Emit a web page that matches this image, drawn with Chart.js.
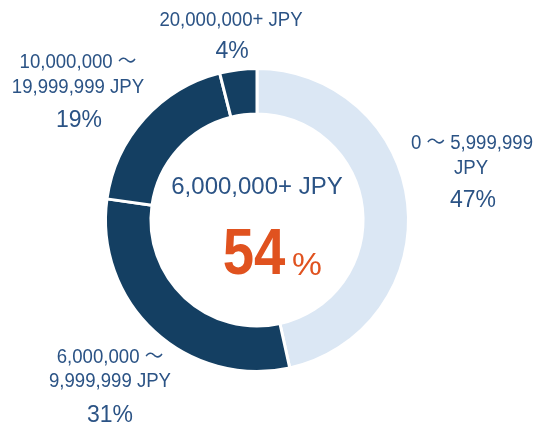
<!DOCTYPE html>
<html>
<head>
<meta charset="utf-8">
<script src="https://cdn.jsdelivr.net/npm/chart.js@4.4.0/dist/chart.umd.min.js"></script>
<style>
  html, body { margin: 0; padding: 0; background: #fff; }
  #wrap { width: 537px; height: 430px; }
</style>
</head>
<body>
<div id="wrap"><canvas id="chart" width="537" height="430"></canvas></div>
<script>
// data
const categories = ["0 ～ 5,999,999 JPY", "6,000,000 ～ 9,999,999 JPY", "10,000,000 ～ 19,999,999 JPY", "20,000,000+ JPY"];
const values = [47, 31, 19, 4];
const colors = ["#dbe7f4", "#143f62", "#143f62", "#143f62"];
const centerLabel = "6,000,000+ JPY";
const centerValue = "54";

const textColor = "#2b5385";
const fontFamily = "'Liberation Sans', 'Noto Sans CJK JP', Arial, sans-serif";

// label lines drawn outside the ring (x, y are text centres)
const outsideLabels = [
    { lines: [["0 ～ 5,999,999", 472, 143], ["JPY", 471, 168]], pct: [values[0] + "%", 473, 201] },
    { lines: [["6,000,000 ～", 110, 357], ["9,999,999 JPY", 110, 381]], pct: [values[1] + "%", 110, 416] },
    { lines: [["10,000,000 ～", 78, 62], ["19,999,999 JPY", 78, 87]], pct: [values[2] + "%", 79, 121] },
    { lines: [["20,000,000+ JPY", 231, 20]], pct: [values[3] + "%", 232, 52] }
];

function drawText(ctx, txt, x, y, font, color, sx) {
    ctx.save();
    ctx.font = font;
    ctx.fillStyle = color;
    ctx.textAlign = "center";
    ctx.textBaseline = "middle";
    ctx.translate(x, y);
    ctx.scale(sx, 1);
    ctx.fillText(txt, 0, 0);
    ctx.restore();
}

const labelPlugin = {
    id: "labelPlugin",
    afterDraw(chart) {
        const ctx = chart.ctx;
        outsideLabels.forEach(function (l) {
            l.lines.forEach(function (ln) {
                drawText(ctx, ln[0], ln[1], ln[2], "20px " + fontFamily, textColor, 0.93);
            });
            drawText(ctx, l.pct[0], l.pct[1], l.pct[2], "23px " + fontFamily, textColor, 1.0);
        });

        const arc = chart.getDatasetMeta(0).data[0];
        const cx = arc.x, cy = arc.y;
        drawText(ctx, centerLabel, cx, cy - 33, "24px " + fontFamily, textColor, 1.0);

        // big number + smaller percent sign
        drawText(ctx, centerValue, cx - 3, cy + 36, "bold 64px " + fontFamily, "#e0521f", 0.88);
        drawText(ctx, "%", cx + 50, cy + 46, "32px " + fontFamily, "#e0521f", 1.05);
    }
};

new Chart(document.getElementById("chart"), {
    type: "doughnut",
    data: {
        labels: categories,
        datasets: [{
            data: values,
            backgroundColor: colors,
            borderColor: "#ffffff",
            borderWidth: 3
        }]
    },
    options: {
        responsive: false,
        animation: false,
        cutout: "70%",
        layout: { padding: { left: 104, right: 127, top: 67, bottom: 57 } },
        plugins: {
            legend: { display: false },
            tooltip: { enabled: false }
        }
    },
    plugins: [labelPlugin]
});
</script>
</body>
</html>
